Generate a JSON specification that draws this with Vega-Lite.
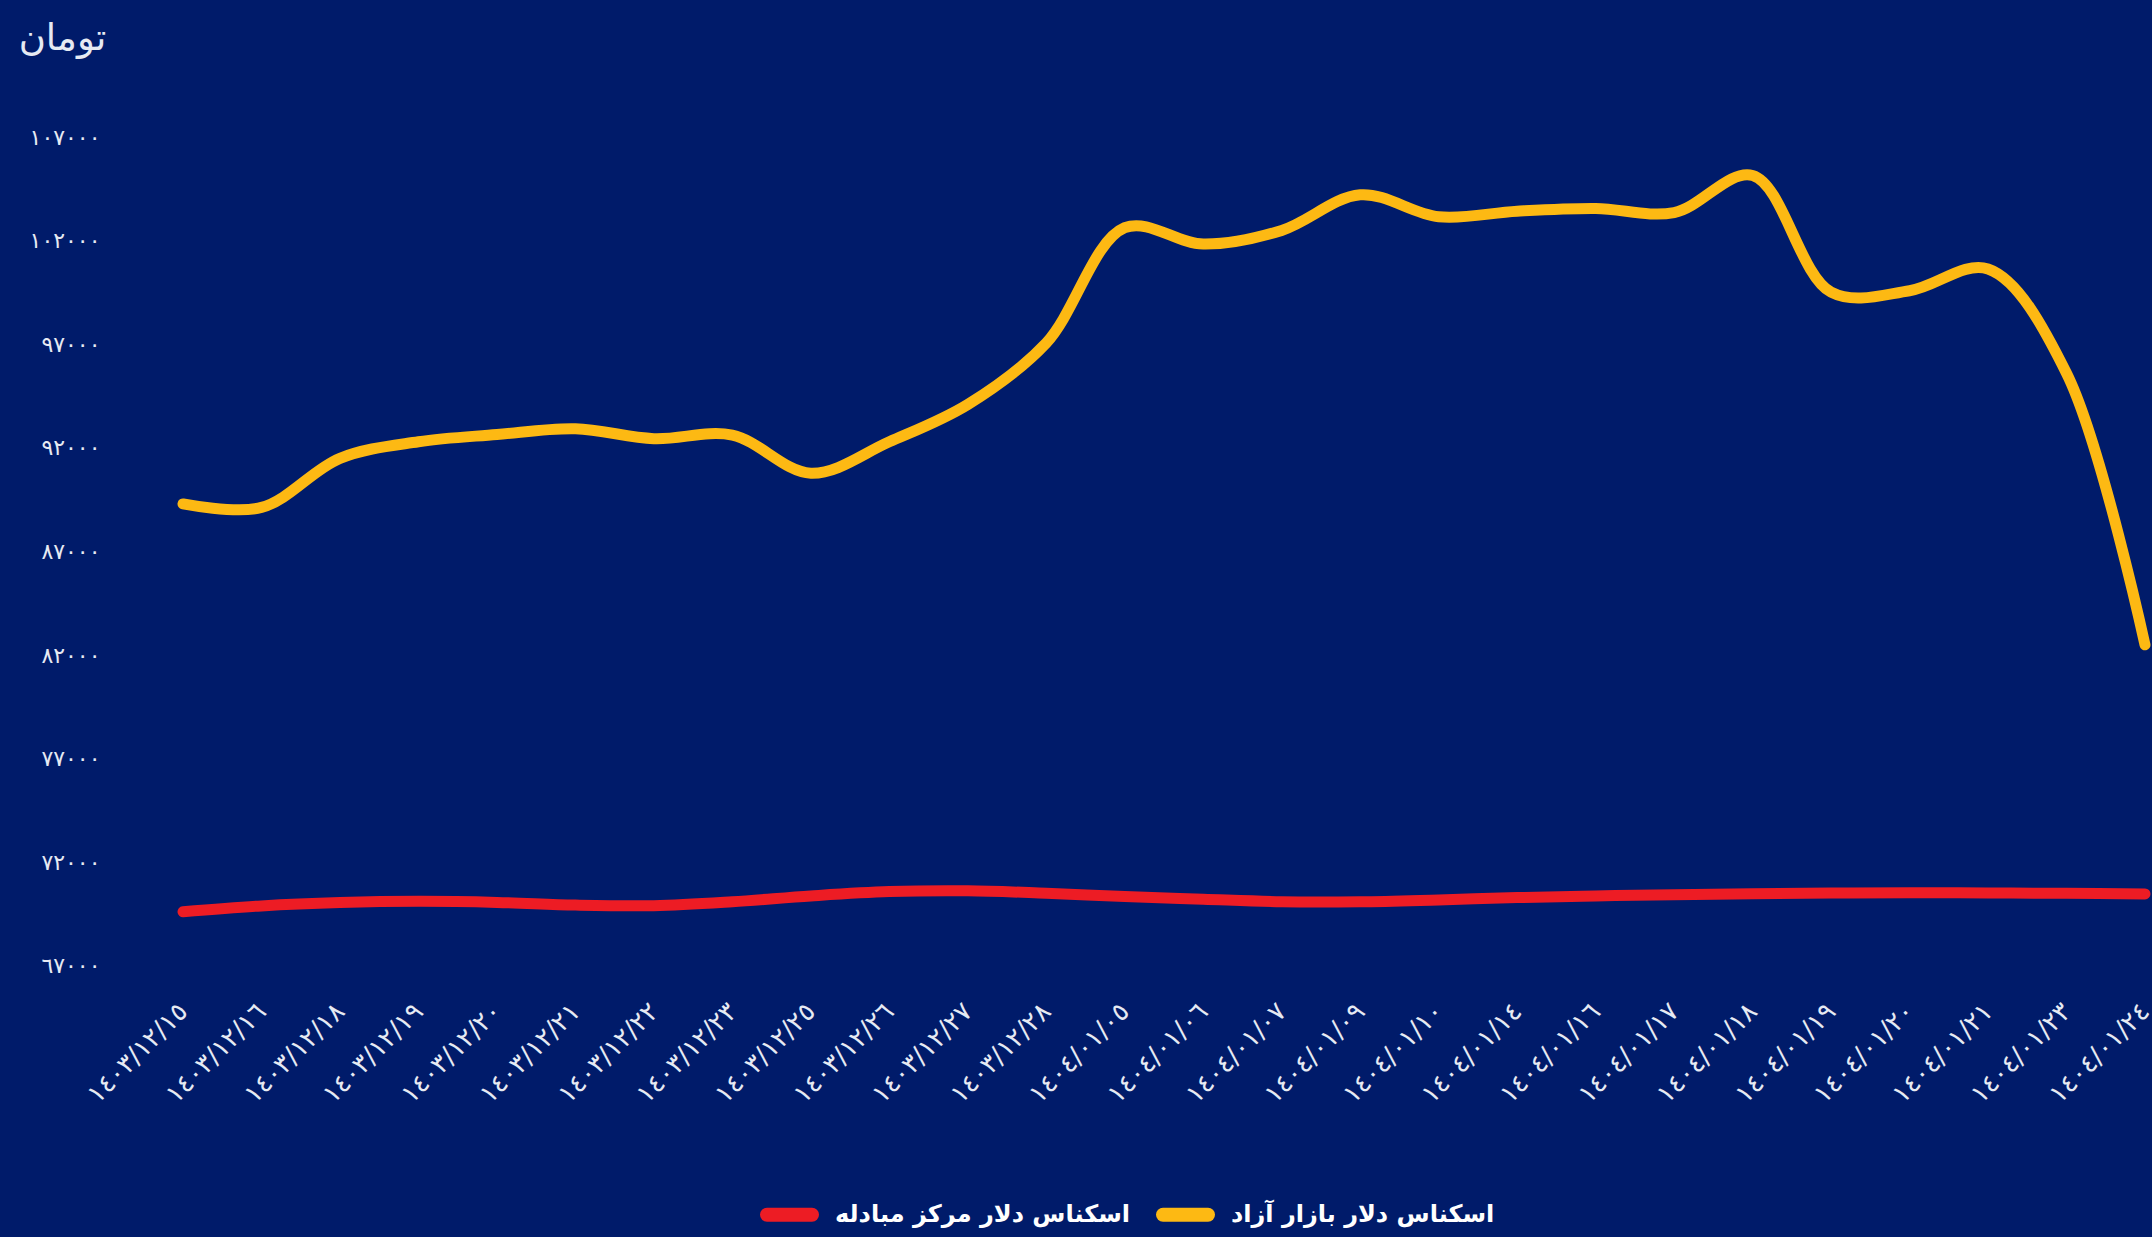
{
  "$schema": "https://vega.github.io/schema/vega-lite/v6.json",
  "autosize": {"type": "none"},
  "padding": {"left": 110, "top": 75, "right": 0, "bottom": 242},
  "width": 2042,
  "height": 920,
  "background": "#001b6a",
  "config": {
    "view": {"stroke": null},
    "font": "DejaVu Sans"
  },
  "data": {
    "values": [
      {"date": "١٤٠٣/١٢/١٥", "series": "اسکناس دلار بازار آزاد", "value": 89300},
      {"date": "١٤٠٣/١٢/١٦", "series": "اسکناس دلار بازار آزاد", "value": 89130},
      {"date": "١٤٠٣/١٢/١٨", "series": "اسکناس دلار بازار آزاد", "value": 91500},
      {"date": "١٤٠٣/١٢/١٩", "series": "اسکناس دلار بازار آزاد", "value": 92300},
      {"date": "١٤٠٣/١٢/٢٠", "series": "اسکناس دلار بازار آزاد", "value": 92650},
      {"date": "١٤٠٣/١٢/٢١", "series": "اسکناس دلار بازار آزاد", "value": 92930},
      {"date": "١٤٠٣/١٢/٢٢", "series": "اسکناس دلار بازار آزاد", "value": 92450},
      {"date": "١٤٠٣/١٢/٢٣", "series": "اسکناس دلار بازار آزاد", "value": 92620},
      {"date": "١٤٠٣/١٢/٢٥", "series": "اسکناس دلار بازار آزاد", "value": 90780},
      {"date": "١٤٠٣/١٢/٢٦", "series": "اسکناس دلار بازار آزاد", "value": 92300},
      {"date": "١٤٠٣/١٢/٢٧", "series": "اسکناس دلار بازار آزاد", "value": 94100},
      {"date": "١٤٠٣/١٢/٢٨", "series": "اسکناس دلار بازار آزاد", "value": 97070},
      {"date": "١٤٠٤/٠١/٠٥", "series": "اسکناس دلار بازار آزاد", "value": 102630},
      {"date": "١٤٠٤/٠١/٠٦", "series": "اسکناس دلار بازار آزاد", "value": 101840},
      {"date": "١٤٠٤/٠١/٠٧", "series": "اسکناس دلار بازار آزاد", "value": 102500},
      {"date": "١٤٠٤/٠١/٠٩", "series": "اسکناس دلار بازار آزاد", "value": 104220},
      {"date": "١٤٠٤/٠١/١٠", "series": "اسکناس دلار بازار آزاد", "value": 103160},
      {"date": "١٤٠٤/٠١/١٤", "series": "اسکناس دلار بازار آزاد", "value": 103430},
      {"date": "١٤٠٤/٠١/١٦", "series": "اسکناس دلار بازار آزاد", "value": 103560},
      {"date": "١٤٠٤/٠١/١٧", "series": "اسکناس دلار بازار آزاد", "value": 103360},
      {"date": "١٤٠٤/٠١/١٨", "series": "اسکناس دلار بازار آزاد", "value": 105150},
      {"date": "١٤٠٤/٠١/١٩", "series": "اسکناس دلار بازار آزاد", "value": 99520},
      {"date": "١٤٠٤/٠١/٢٠", "series": "اسکناس دلار بازار آزاد", "value": 99590},
      {"date": "١٤٠٤/٠١/٢١", "series": "اسکناس دلار بازار آزاد", "value": 100640},
      {"date": "١٤٠٤/٠١/٢٣", "series": "اسکناس دلار بازار آزاد", "value": 95610},
      {"date": "١٤٠٤/٠١/٢٤", "series": "اسکناس دلار بازار آزاد", "value": 82500},
      {"date": "١٤٠٣/١٢/١٥", "series": "اسکناس دلار مرکز مبادله", "value": 69620},
      {"date": "١٤٠٣/١٢/١٦", "series": "اسکناس دلار مرکز مبادله", "value": 69900},
      {"date": "١٤٠٣/١٢/١٨", "series": "اسکناس دلار مرکز مبادله", "value": 70060},
      {"date": "١٤٠٣/١٢/١٩", "series": "اسکناس دلار مرکز مبادله", "value": 70120},
      {"date": "١٤٠٣/١٢/٢٠", "series": "اسکناس دلار مرکز مبادله", "value": 70070},
      {"date": "١٤٠٣/١٢/٢١", "series": "اسکناس دلار مرکز مبادله", "value": 69940},
      {"date": "١٤٠٣/١٢/٢٢", "series": "اسکناس دلار مرکز مبادله", "value": 69910},
      {"date": "١٤٠٣/١٢/٢٣", "series": "اسکناس دلار مرکز مبادله", "value": 70100},
      {"date": "١٤٠٣/١٢/٢٥", "series": "اسکناس دلار مرکز مبادله", "value": 70380},
      {"date": "١٤٠٣/١٢/٢٦", "series": "اسکناس دلار مرکز مبادله", "value": 70590},
      {"date": "١٤٠٣/١٢/٢٧", "series": "اسکناس دلار مرکز مبادله", "value": 70630},
      {"date": "١٤٠٣/١٢/٢٨", "series": "اسکناس دلار مرکز مبادله", "value": 70510},
      {"date": "١٤٠٤/٠١/٠٥", "series": "اسکناس دلار مرکز مبادله", "value": 70350},
      {"date": "١٤٠٤/٠١/٠٦", "series": "اسکناس دلار مرکز مبادله", "value": 70220},
      {"date": "١٤٠٤/٠١/٠٧", "series": "اسکناس دلار مرکز مبادله", "value": 70100},
      {"date": "١٤٠٤/٠١/٠٩", "series": "اسکناس دلار مرکز مبادله", "value": 70100},
      {"date": "١٤٠٤/٠١/١٠", "series": "اسکناس دلار مرکز مبادله", "value": 70190},
      {"date": "١٤٠٤/٠١/١٤", "series": "اسکناس دلار مرکز مبادله", "value": 70300},
      {"date": "١٤٠٤/٠١/١٦", "series": "اسکناس دلار مرکز مبادله", "value": 70380},
      {"date": "١٤٠٤/٠١/١٧", "series": "اسکناس دلار مرکز مبادله", "value": 70440},
      {"date": "١٤٠٤/٠١/١٨", "series": "اسکناس دلار مرکز مبادله", "value": 70490},
      {"date": "١٤٠٤/٠١/١٩", "series": "اسکناس دلار مرکز مبادله", "value": 70520},
      {"date": "١٤٠٤/٠١/٢٠", "series": "اسکناس دلار مرکز مبادله", "value": 70540},
      {"date": "١٤٠٤/٠١/٢١", "series": "اسکناس دلار مرکز مبادله", "value": 70520},
      {"date": "١٤٠٤/٠١/٢٣", "series": "اسکناس دلار مرکز مبادله", "value": 70510},
      {"date": "١٤٠٤/٠١/٢٤", "series": "اسکناس دلار مرکز مبادله", "value": 70480}
    ]
  },
  "mark": {"type": "line", "interpolate": "catmull-rom", "strokeWidth": 11, "strokeCap": "round", "strokeJoin": "round"},
  "encoding": {
    "x": {
      "field": "date",
      "type": "ordinal",
      "sort": null,
      "scale": {"type": "point", "range": [73, 2035], "padding": 0},
      "axis": {
        "title": null,
        "domain": false,
        "ticks": false,
        "grid": false,
        "labelAngle": -45,
        "labelAlign": "right",
        "labelBaseline": "middle",
        "labelPadding": 12,
        "labelFontSize": 26,
        "labelColor": "#e6eaf3",
        "labelFont": "DejaVu Sans",
        "labelOverlap": false
      }
    },
    "y": {
      "field": "value",
      "type": "quantitative",
      "scale": {"domain": [65600, 110000], "nice": false, "zero": false},
      "axis": {
        "title": "تومان",
        "titleAngle": 0,
        "titleAlign": "center",
        "titleBaseline": "middle",
        "titleX": -48,
        "titleY": -37,
        "titleFontSize": 37,
        "titleFontWeight": "normal",
        "titleColor": "#e6eaf3",
        "titleFont": "DejaVu Sans",
        "values": [67000, 72000, 77000, 82000, 87000, 92000, 97000, 102000, 107000],
        "labelExpr": "replace(replace(replace(replace(replace(replace(replace(replace(replace(replace(toString(datum.value), regexp('0','g'), '٠'), regexp('1','g'), '١'), regexp('2','g'), '٢'), regexp('3','g'), '٣'), regexp('4','g'), '٤'), regexp('5','g'), '٥'), regexp('6','g'), '٦'), regexp('7','g'), '٧'), regexp('8','g'), '٨'), regexp('9','g'), '٩')",
        "domain": false,
        "ticks": false,
        "grid": false,
        "labelPadding": 10,
        "labelFontSize": 22,
        "labelColor": "#e6eaf3",
        "labelFont": "DejaVu Sans"
      }
    },
    "color": {
      "field": "series",
      "type": "nominal",
      "scale": {
        "domain": ["اسکناس دلار مرکز مبادله", "اسکناس دلار بازار آزاد"],
        "range": ["#ed1c24", "#fdb913"]
      },
      "legend": {
        "title": null,
        "orient": "none",
        "legendX": 650,
        "legendY": 1110,
        "direction": "horizontal",
        "symbolType": "stroke",
        "symbolStrokeWidth": 14,
        "symbolSize": 2025,
        "labelFontSize": 24,
        "labelFontWeight": "bold",
        "labelColor": "#ffffff",
        "labelFont": "DejaVu Sans",
        "labelOffset": 16,
        "columnPadding": 4,
        "labelLimit": 500,
        "encode": {"symbols": {"update": {"strokeCap": {"value": "round"}}}}
      }
    }
  }
}
